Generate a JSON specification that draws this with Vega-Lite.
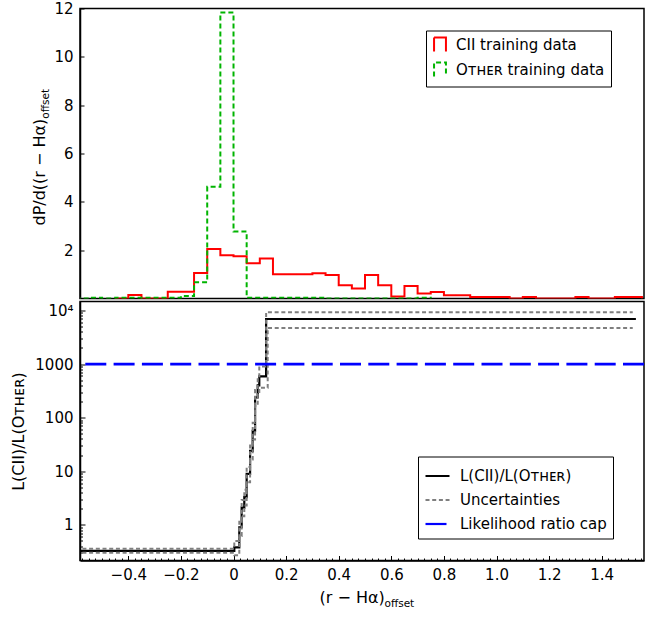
{
  "$schema": "https://vega.github.io/schema/vega-lite/v6.json",
  "background": "white",
  "padding": {"left": 9, "top": 0.5, "right": 4, "bottom": 4},
  "spacing": 1,
  "resolve": {
    "scale": {"color": "independent", "strokeDash": "independent"},
    "legend": {"color": "independent", "strokeDash": "independent"}
  },
  "datasets": {
    "cii": [
      {"x": -0.45, "d": 0}, {"x": -0.4, "d": 0.14}, {"x": -0.35, "d": 0}, {"x": -0.3, "d": 0},
      {"x": -0.25, "d": 0.28}, {"x": -0.2, "d": 0.28}, {"x": -0.15, "d": 1.06}, {"x": -0.1, "d": 2.05},
      {"x": -0.05, "d": 1.79}, {"x": 0.0, "d": 1.75}, {"x": 0.05, "d": 1.46}, {"x": 0.1, "d": 1.66},
      {"x": 0.15, "d": 1.0}, {"x": 0.2, "d": 1.0}, {"x": 0.25, "d": 1.0}, {"x": 0.3, "d": 1.04},
      {"x": 0.35, "d": 0.97}, {"x": 0.4, "d": 0.55}, {"x": 0.45, "d": 0.41}, {"x": 0.5, "d": 0.97},
      {"x": 0.55, "d": 0.55}, {"x": 0.6, "d": 0.08}, {"x": 0.65, "d": 0.52}, {"x": 0.7, "d": 0.21},
      {"x": 0.75, "d": 0.27}, {"x": 0.8, "d": 0.13}, {"x": 0.85, "d": 0.13}, {"x": 0.9, "d": 0.06},
      {"x": 0.95, "d": 0.06}, {"x": 1.0, "d": 0.06}, {"x": 1.05, "d": 0}, {"x": 1.1, "d": 0.06},
      {"x": 1.15, "d": 0}, {"x": 1.2, "d": 0}, {"x": 1.25, "d": 0}, {"x": 1.3, "d": 0.06},
      {"x": 1.35, "d": 0}, {"x": 1.4, "d": 0}, {"x": 1.45, "d": 0.06}, {"x": 1.5, "d": 0.06},
      {"x": 1.553, "d": 0}
    ],
    "other": [
      {"x": -0.6, "d": 0}, {"x": -0.55, "d": 0.03}, {"x": -0.5, "d": 0}, {"x": -0.45, "d": 0.03},
      {"x": -0.4, "d": 0.03}, {"x": -0.35, "d": 0.03}, {"x": -0.3, "d": 0.03}, {"x": -0.25, "d": 0.03},
      {"x": -0.2, "d": 0.1}, {"x": -0.15, "d": 0.67}, {"x": -0.1, "d": 4.62}, {"x": -0.05, "d": 11.83},
      {"x": 0.0, "d": 2.77}, {"x": 0.05, "d": 0.03}, {"x": 0.1, "d": 0.03}, {"x": 0.15, "d": 0.03},
      {"x": 0.2, "d": 0.03}, {"x": 0.25, "d": 0.03}, {"x": 0.3, "d": 0.03}, {"x": 0.35, "d": 0},
      {"x": 0.7, "d": 0.03}, {"x": 0.75, "d": 0}
    ],
    "ratio": [
      {"x": -0.6, "r": 0.327}, {"x": 0.003, "r": 0.38}, {"x": 0.022, "r": 0.9}, {"x": 0.031, "r": 2.1},
      {"x": 0.041, "r": 3.3}, {"x": 0.05, "r": 8.9}, {"x": 0.063, "r": 24}, {"x": 0.073, "r": 57},
      {"x": 0.082, "r": 240}, {"x": 0.092, "r": 400}, {"x": 0.098, "r": 590}, {"x": 0.124, "r": 6950},
      {"x": 1.53, "r": 6950}
    ],
    "bounds": [
      {"bound": "upper", "x": -0.6, "r": 0.357}, {"bound": "upper", "x": 0.003, "r": 0.5},
      {"bound": "upper", "x": 0.022, "r": 1.2}, {"bound": "upper", "x": 0.031, "r": 2.9},
      {"bound": "upper", "x": 0.041, "r": 4.5}, {"bound": "upper", "x": 0.05, "r": 12},
      {"bound": "upper", "x": 0.063, "r": 33}, {"bound": "upper", "x": 0.073, "r": 80},
      {"bound": "upper", "x": 0.082, "r": 330}, {"bound": "upper", "x": 0.092, "r": 560},
      {"bound": "upper", "x": 0.098, "r": 900}, {"bound": "upper", "x": 0.124, "r": 9300},
      {"bound": "upper", "x": 1.518, "r": 9300},
      {"bound": "lower", "x": -0.6, "r": 0.3}, {"bound": "lower", "x": 0.003, "r": 0.27},
      {"bound": "lower", "x": 0.022, "r": 0.62}, {"bound": "lower", "x": 0.031, "r": 1.45},
      {"bound": "lower", "x": 0.041, "r": 2.3}, {"bound": "lower", "x": 0.05, "r": 6.2},
      {"bound": "lower", "x": 0.063, "r": 16.5}, {"bound": "lower", "x": 0.073, "r": 39},
      {"bound": "lower", "x": 0.082, "r": 165}, {"bound": "lower", "x": 0.092, "r": 275},
      {"bound": "lower", "x": 0.098, "r": 360}, {"bound": "lower", "x": 0.13, "r": 4730},
      {"bound": "lower", "x": 1.518, "r": 4730}
    ],
    "cap": [{"r": 1000}]
  },
  "config": {
    "font": "DejaVu Sans",
    "view": {"stroke": "black", "strokeWidth": 1.5},
    "axis": {
      "grid": false,
      "labelFont": "DejaVu Sans", "labelFontSize": 15, "labelColor": "black",
      "titleFont": "DejaVu Sans", "titleFontWeight": "normal", "titleColor": "black",
      "tickColor": "black", "tickWidth": 1, "domainColor": "black", "domainWidth": 1.5,
      "zindex": 1, "labelFlush": false, "labelOverlap": false
    },
    "legend": {
      "labelFont": "DejaVu Sans", "labelFontSize": 15, "labelColor": "black",
      "strokeColor": "black", "fillColor": "white", "cornerRadius": 0, "padding": 8
    }
  },
  "vconcat": [
    {
      "width": 564,
      "height": 290,
      "resolve": {"axis": {"y": "independent"}},
      "layer": [
        {
          "data": {"name": "cii"},
          "mark": {"type": "line", "interpolate": "step-after", "strokeWidth": 2, "clip": true},
          "encoding": {
            "x": {
              "field": "x", "type": "quantitative",
              "scale": {"domain": [-0.5837, 1.5608], "nice": false, "zero": false},
              "axis": {
                "values": [-0.4, -0.2, 0, 0.2, 0.4, 0.6, 0.8, 1.0, 1.2, 1.4],
                "labels": false, "tickSize": -4,
                "title": ")", "titleFontSize": 16, "titleAngle": -90,
                "titleAlign": "left", "titleBaseline": "alphabetic",
                "titleX": -36, "titleY": -210
              }
            },
            "y": {
              "field": "d", "type": "quantitative",
              "scale": {"domain": [0, 12], "nice": false, "zero": true},
              "axis": {
                "values": [2, 4, 6, 8, 10, 12], "tickSize": -4, "labelPadding": 11,
                "title": "dP/d((r − Hα)", "titleFontSize": 16, "titleAngle": -90,
                "titleAlign": "left", "titleBaseline": "alphabetic",
                "titleX": -36, "titleY": 216.5
              }
            },
            "color": {
              "datum": "CII training data", "type": "nominal",
              "scale": {"domain": ["CII training data", "Oᴛʜᴇʀ training data"], "range": ["#ff0000", "#00b400"]},
              "legend": {
                "title": null, "orient": "none", "legendX": 346, "legendY": 22,
                "symbolType": "M-0.85,1V-1H0.85V1", "symbolSize": 196, "symbolStrokeWidth": 2,
                "labelOffset": 8, "rowPadding": 3, "padding": 6
              }
            },
            "strokeDash": {
              "datum": "CII training data", "type": "nominal",
              "scale": {"domain": ["CII training data", "Oᴛʜᴇʀ training data"], "range": [[1, 0], [5, 3]]}
            }
          }
        },
        {
          "data": {"name": "other"},
          "mark": {"type": "line", "interpolate": "step-after", "strokeWidth": 2, "clip": true},
          "encoding": {
            "x": {"field": "x", "type": "quantitative", "axis": null},
            "y": {
              "field": "d", "type": "quantitative",
              "axis": {
                "orient": "left", "ticks": false, "labels": false, "domain": false,
                "title": "offset", "titleFontSize": 10.5, "titleAngle": -90,
                "titleAlign": "left", "titleBaseline": "alphabetic",
                "titleX": -32, "titleY": 109.7
              }
            },
            "color": {"datum": "Oᴛʜᴇʀ training data", "type": "nominal"},
            "strokeDash": {"datum": "Oᴛʜᴇʀ training data", "type": "nominal"}
          }
        }
      ]
    },
    {
      "width": 564,
      "height": 259,
      "resolve": {"axis": {"x": "independent", "y": "independent"}},
      "layer": [
        {
          "data": {"name": "ratio"},
          "mark": {"type": "line", "interpolate": "step-after", "strokeWidth": 2.2, "clip": true},
          "encoding": {
            "x": {
              "field": "x", "type": "quantitative",
              "scale": {"domain": [-0.5837, 1.5608], "nice": false, "zero": false},
              "axis": {
                "values": [-0.4, -0.2, 0, 0.2, 0.4, 0.6, 0.8, 1.0, 1.2, 1.4],
                "labelExpr": "datum.value === 0 ? '0' : format(datum.value, '.1f')",
                "tickSize": -5, "labelPadding": 12,
                "title": "(r − Hα)", "titleFontSize": 16, "titleAngle": 0,
                "titleAlign": "left", "titleBaseline": "alphabetic",
                "titleX": 239, "titleY": 42
              }
            },
            "y": {
              "field": "r", "type": "quantitative",
              "scale": {"type": "log", "domain": [0.2157, 14730], "nice": false},
              "axis": {
                "values": [1, 10, 100, 1000, 10000],
                "labelExpr": "datum.value >= 10000 ? '10⁴' : format(datum.value, 'd')",
                "tickSize": -5, "labelPadding": 12,
                "title": "L(CII)/L(Oᴛʜᴇʀ)", "titleFontSize": 16, "titleAngle": -90,
                "titleAlign": "center", "titleBaseline": "middle",
                "titleX": -62, "titleY": 129.5
              }
            },
            "color": {
              "datum": "L(CII)/L(Oᴛʜᴇʀ)", "type": "nominal",
              "scale": {"domain": ["L(CII)/L(Oᴛʜᴇʀ)", "Uncertainties", "Likelihood ratio cap"], "range": ["#000000", "#7f7f7f", "#0000ff"]},
              "legend": {
                "title": null, "orient": "none", "legendX": 338, "legendY": 155,
                "symbolType": "stroke", "symbolSize": 576, "symbolStrokeWidth": 2.2,
                "labelOffset": 9, "rowPadding": 2, "padding": 6
              }
            },
            "strokeDash": {
              "datum": "L(CII)/L(Oᴛʜᴇʀ)", "type": "nominal",
              "scale": {"domain": ["L(CII)/L(Oᴛʜᴇʀ)", "Uncertainties", "Likelihood ratio cap"], "range": [[1, 0], [4, 2.7], [21, 7.3]]}
            }
          }
        },
        {
          "data": {"name": "bounds"},
          "mark": {"type": "line", "interpolate": "step-after", "strokeWidth": 2, "clip": true},
          "encoding": {
            "x": {
              "field": "x", "type": "quantitative",
              "axis": {
                "values": [-0.575,-0.55,-0.525,-0.5,-0.475,-0.45,-0.425,-0.4,-0.375,-0.35,-0.325,-0.3,-0.275,-0.25,-0.225,-0.2,-0.175,-0.15,-0.125,-0.1,-0.075,-0.05,-0.025,0,0.025,0.05,0.075,0.1,0.125,0.15,0.175,0.2,0.225,0.25,0.275,0.3,0.325,0.35,0.375,0.4,0.425,0.45,0.475,0.5,0.525,0.55,0.575,0.6,0.625,0.65,0.675,0.7,0.725,0.75,0.775,0.8,0.825,0.85,0.875,0.9,0.925,0.95,0.975,1,1.025,1.05,1.075,1.1,1.125,1.15,1.175,1.2,1.225,1.25,1.275,1.3,1.325,1.35,1.375,1.4,1.425,1.45,1.475,1.5,1.525,1.55],
                "orient": "bottom", "labels": false, "domain": false, "tickSize": -2.5,
                "title": "offset", "titleFontSize": 10.5, "titleAngle": 0,
                "titleAlign": "left", "titleBaseline": "alphabetic",
                "titleX": 304, "titleY": 46
              }
            },
            "y": {
              "field": "r", "type": "quantitative",
              "axis": {
                "values": [0.3,0.4,0.5,0.6,0.7,0.8,0.9,2,3,4,5,6,7,8,9,20,30,40,50,60,70,80,90,200,300,400,500,600,700,800,900,2000,3000,4000,5000,6000,7000,8000,9000],
                "orient": "left", "labels": false, "domain": false, "tickSize": -2.5, "title": null
              }
            },
            "detail": {"field": "bound", "type": "nominal"},
            "color": {"datum": "Uncertainties", "type": "nominal"},
            "strokeDash": {"datum": "Uncertainties", "type": "nominal"}
          }
        },
        {
          "data": {"name": "cap"},
          "mark": {"type": "rule", "strokeWidth": 2.6},
          "encoding": {
            "y": {"field": "r", "type": "quantitative", "axis": null},
            "color": {"datum": "Likelihood ratio cap", "type": "nominal"},
            "strokeDash": {"datum": "Likelihood ratio cap", "type": "nominal"}
          }
        }
      ]
    }
  ]
}
